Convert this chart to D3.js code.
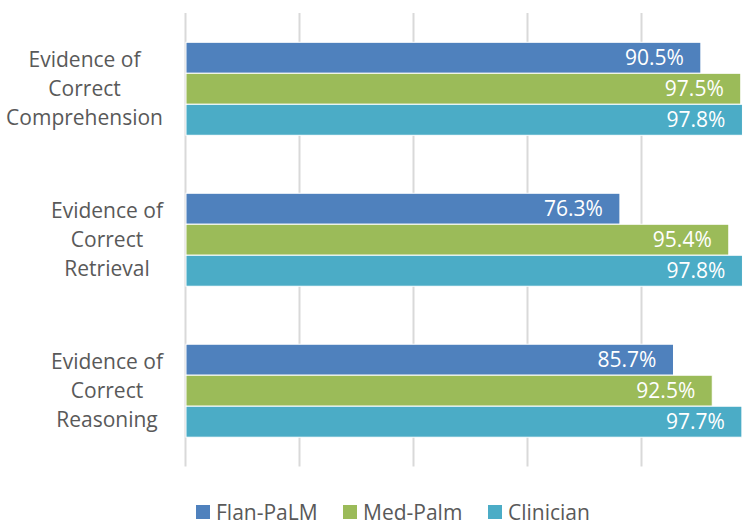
<!DOCTYPE html>
<html><head><meta charset="utf-8">
<script src="https://cdn.jsdelivr.net/npm/d3@7"></script>
<style>
html,body{margin:0;padding:0;background:#fff;}
text{font-family:"Open Sans",sans-serif;}
</style></head>
<body>
<svg id="c" width="747" height="527"></svg>
<script>
const categories = ["Evidence of Correct Comprehension", "Evidence of Correct Retrieval", "Evidence of Correct Reasoning"];
const categoryLines = [["Evidence of","Correct","Comprehension"],["Evidence of","Correct","Retrieval"],["Evidence of","Correct","Reasoning"]];
const series = ["Flan-PaLM", "Med-Palm", "Clinician"];
const flanPalm = [90.5, 76.3, 85.7];
const medPalm = [97.5, 95.4, 92.5];
const clinician = [97.8, 97.8, 97.7];
const colors = ["#4F81BD", "#9BBB59", "#4BACC6"];
const xTicks = [0, 20, 40, 60, 80, 100];

const values = [flanPalm, medPalm, clinician];
const svg = d3.select("#c");

const x = d3.scaleLinear().domain([0, 100]).range([185, 755]);
const y = d3.scaleBand().domain(categories).range([13, 466.5]).paddingInner(0.384).paddingOuter(0.194);
const ys = d3.scaleBand().domain(series).range([0, y.bandwidth()]);

// gridlines
const grid = svg.append("g").attr("transform", "translate(0,466.5)")
  .call(d3.axisBottom(x).tickValues(xTicks).tickSize(-453.5).tickFormat(""));
grid.select(".domain").remove();
grid.selectAll(".tick line").attr("stroke", "#D9D9D9").attr("stroke-width", 2);

// bars
const groups = svg.append("g").selectAll("g").data(categories).join("g")
  .attr("transform", d => `translate(0,${y(d)})`);
series.forEach((s, si) => {
  groups.append("rect")
    .attr("x", x(0) + 1)
    .attr("y", ys(s))
    .attr("width", (d, i) => x(values[si][i]) - x(0) - 1)
    .attr("height", ys.bandwidth())
    .attr("fill", colors[si])
    .attr("stroke", "#fff").attr("stroke-width", 1);
  groups.append("text")
    .attr("x", (d, i) => x(values[si][i]) - 17)
    .attr("y", ys(s) + ys.bandwidth() / 2)
    .attr("dy", "0.36em")
    .attr("text-anchor", "end")
    .attr("fill", "#fff")
    .attr("font-size", 21)
    .text((d, i) => values[si][i].toFixed(1) + "%");
});

// category labels
categories.forEach((c, ci) => {
  const lines = categoryLines[ci];
  const g = svg.append("g");
  const cy = y(c) + y.bandwidth() / 2;
  const t = g.selectAll("text").data(lines).join("text")
    .attr("y", (d, i) => cy + (i - 1) * 29)
    .attr("dy", "0.36em")
    .attr("text-anchor", "middle")
    .attr("fill", "#595959")
    .attr("font-size", 21)
    .text(d => d);
  let maxW = 0;
  t.each(function(){ maxW = Math.max(maxW, this.getComputedTextLength()); });
  t.attr("x", 163 - maxW / 2);
});

// legend
const legendX = [196, 343, 488];
const lg = svg.append("g").selectAll("g").data(series).join("g")
  .attr("transform", (d, i) => `translate(${legendX[i]},505)`);
lg.append("rect").attr("width", 14).attr("height", 14).attr("fill", (d, i) => colors[i]);
lg.append("text").attr("x", 20).attr("y", 7).attr("dy", "0.36em")
  .attr("fill", "#595959").attr("font-size", 21).text(d => d);
</script>
</body></html>
